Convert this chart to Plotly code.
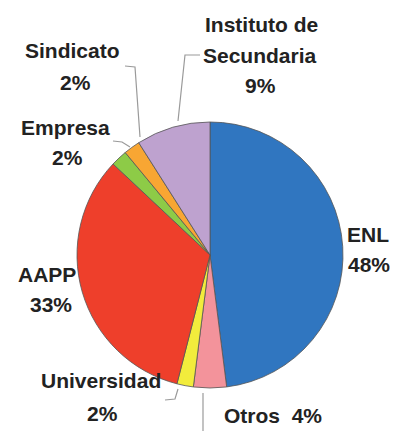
import plotly.graph_objects as go

# data
labels = ['ENL', 'Otros', 'Universidad', 'AAPP', 'Empresa', 'Sindicato', 'Instituto de Secundaria']
values = [48, 4, 2, 33, 2, 2, 9]
colors = ['#3076c0', '#f3939b', '#f2ec3c', '#ee3f2b', '#8dcb47', '#f8a633', '#bea2cf']

W, H = 400, 431


def px(x):
    return x / W


def py(y):
    return 1 - y / H


# pie placement in pixels (centre and radius)
cx, cy, r = 210, 255, 133

# label text lines and their centre points in pixels
label_lines = {
    'ENL': [('ENL', 368, 235), ('{p}%', 369, 264)],
    'Otros': [('Otros  {p}%', 273, 415)],
    'Universidad': [('Universidad', 101, 380), ('{p}%', 102, 413)],
    'AAPP': [('AAPP', 47, 274), ('{p}%', 51, 304)],
    'Empresa': [('Empresa', 65, 127), ('{p}%', 67, 157)],
    'Sindicato': [('Sindicato', 72, 51), ('{p}%', 75, 82)],
    'Instituto de Secundaria': [('Instituto de', 261, 24), ('Secundaria', 260, 55), ('{p}%', 260, 85)],
}

# leader lines in pixels
leaders = [
    [(178, 121), (185, 55), (200, 55)],
    [(140, 137), (135, 67), (125, 66)],
    [(130, 147), (122, 142), (113, 141)],
    [(178, 389), (175, 399), (165, 400)],
    [(203, 393), (203, 431)],
]

fig = go.Figure()

fig.add_trace(go.Pie(
    labels=labels,
    values=values,
    sort=False,
    direction='clockwise',
    rotation=0,
    textinfo='none',
    hoverinfo='label+percent',
    marker=dict(colors=colors, line=dict(color='#555555', width=0.8)),
    domain=dict(x=[px(cx - r), px(cx + r)], y=[py(cy + r), py(cy - r)]),
    showlegend=False,
))

annotations = []
for name, val in zip(labels, values):
    for text, x, y in label_lines[name]:
        annotations.append(dict(
            x=px(x), y=py(y), xref='paper', yref='paper',
            text=text.format(p=val), showarrow=False,
            xanchor='center', yanchor='middle',
            font=dict(family='Liberation Sans, Arial, sans-serif', size=21,
                      color='#222222', weight='bold'),
        ))

shapes = []
for pts in leaders:
    path = 'M ' + ' L '.join(f'{px(x)} {py(y)}' for x, y in pts)
    shapes.append(dict(type='path', xref='paper', yref='paper', path=path,
                       line=dict(color='#9a9a9a', width=1.2)))

fig.update_layout(
    width=W, height=H,
    margin=dict(l=0, r=0, t=0, b=0),
    paper_bgcolor='white',
    plot_bgcolor='white',
    annotations=annotations,
    shapes=shapes,
)

# drop the default 8px page margin so the figure fills the window
fig.write_html("out.html", config={'displayModeBar': False},
               post_script="document.body.style.margin = '0';")
